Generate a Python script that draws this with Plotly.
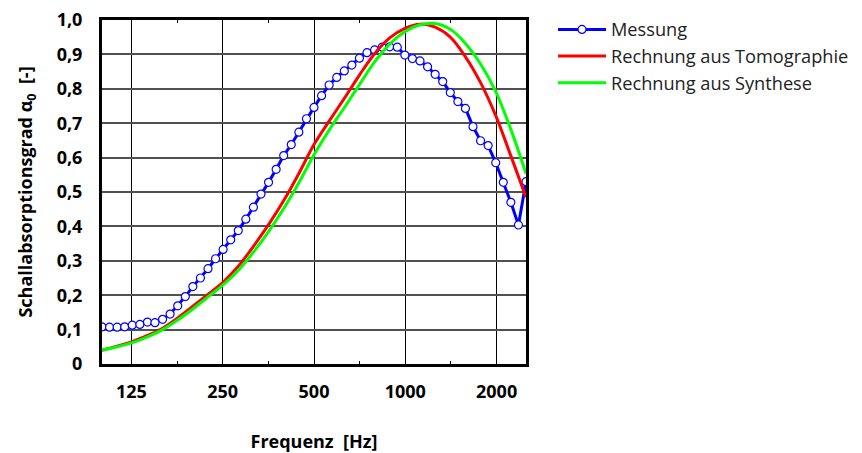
import plotly.graph_objects as go

# 1/12-octave frequencies (Hz)
freq = [100, 105.9, 112.2, 118.8, 125.8, 133.3, 141.2, 149.5, 158.4, 167.7,
        177.7, 188.2, 199.3, 211.1, 223.6, 236.8, 250.8, 265.7, 281.4, 298.0,
        315.7, 334.4, 354.1, 375.1, 397.3, 420.8, 445.7, 472.1, 500.0, 529.6,
        560.9, 594.1, 629.3, 666.5, 705.9, 747.7, 792.0, 838.8, 888.4, 941.0,
        996.7, 1055.6, 1118.1, 1184.2, 1254.3, 1328.5, 1407.1, 1490.3, 1578.5, 1671.9,
        1770.8, 1875.6, 1986.6, 2104.1, 2228.6, 2360.5, 2500.0]

messung = [0.108, 0.107, 0.107, 0.108, 0.113, 0.115, 0.122, 0.120, 0.130, 0.145,
           0.169, 0.196, 0.225, 0.250, 0.277, 0.306, 0.333, 0.361, 0.388, 0.421,
           0.456, 0.494, 0.528, 0.566, 0.606, 0.638, 0.674, 0.713, 0.746, 0.780,
           0.811, 0.833, 0.852, 0.869, 0.889, 0.905, 0.913, 0.921, 0.922, 0.921,
           0.898, 0.888, 0.881, 0.864, 0.842, 0.821, 0.789, 0.763, 0.743, 0.690,
           0.649, 0.635, 0.585, 0.528, 0.470, 0.404, 0.530]

# 1/6-octave frequencies for the calculated curves
freq_calc = [100, 112.2, 125.8, 141.2, 158.4, 177.7, 199.3, 223.6, 250.8, 281.4,
             315.7, 354.1, 397.3, 445.7, 500.0, 560.9, 629.3, 705.9, 792.0, 888.4,
             996.7, 1118.1, 1254.3, 1407.1, 1578.5, 1770.8, 1986.6, 2228.6, 2500.0]

tomographie = [0.040, 0.052, 0.065, 0.083, 0.104, 0.134, 0.168, 0.202, 0.238, 0.284,
               0.342, 0.405, 0.475, 0.554, 0.638, 0.706, 0.772, 0.840, 0.902, 0.948,
               0.976, 0.988, 0.979, 0.950, 0.893, 0.818, 0.722, 0.605, 0.485]

synthese = [0.040, 0.050, 0.062, 0.079, 0.100, 0.128, 0.160, 0.195, 0.230, 0.272,
            0.325, 0.385, 0.452, 0.527, 0.608, 0.680, 0.745, 0.812, 0.878, 0.930,
            0.966, 0.986, 0.990, 0.973, 0.932, 0.872, 0.792, 0.682, 0.554]

x_tickvals = [125, 250, 500, 1000, 2000]
x_ticktext = ["125", "250", "500", "1000", "2000"]
y_tickvals = [0, 0.1, 0.2, 0.3, 0.4, 0.5, 0.6, 0.7, 0.8, 0.9, 1.0]
y_ticktext = ["0", "0,1", "0,2", "0,3", "0,4", "0,5", "0,6", "0,7", "0,8", "0,9", "1,0"]

FONT = "Open Sans"

fig = go.Figure()
fig.add_trace(go.Scatter(
    x=freq, y=messung, name="Messung", mode="lines+markers",
    line=dict(color="#0000FF", width=3),
    marker=dict(symbol="circle", size=8, color="white",
                line=dict(color="#0000FF", width=1.2)),
))
fig.add_trace(go.Scatter(
    x=freq_calc, y=tomographie, name="Rechnung aus Tomographie", mode="lines",
    line=dict(color="#FF0000", width=3, shape="spline", smoothing=1.0),
))
fig.add_trace(go.Scatter(
    x=freq_calc, y=synthese, name="Rechnung aus Synthese", mode="lines",
    line=dict(color="#00FF00", width=3, shape="spline", smoothing=1.0),
))

fig.update_layout(
    template="none",
    width=862, height=453,
    margin=dict(l=102, r=336, t=20, b=89, autoexpand=False),
    paper_bgcolor="white", plot_bgcolor="white",
    font=dict(family=FONT, size=18, color="#000000"),
    showlegend=True,
    legend=dict(
        x=1.0637, y=1.026, xanchor="left", yanchor="top",
        font=dict(family=FONT, size=18.2, color="#222222"),
        bgcolor="rgba(0,0,0,0)", borderwidth=0,
        itemwidth=48, tracegroupgap=0,
    ),
    xaxis=dict(
        type="log", range=[2, 3.39794], automargin=False,
        tickvals=x_tickvals, ticktext=x_ticktext,
        tickfont=dict(family=FONT, size=18, color="#000000", weight="bold"),
        ticks="", ticklabelstandoff=9, ticklabeloverflow="allow",
        showgrid=True, gridcolor="#000000", gridwidth=1,
        showline=True, linecolor="#000000", linewidth=3, mirror="all",
        zeroline=False,
        minor=dict(tickvals=[177, 354, 707, 1414], ticks="inside", ticklen=3,
                   tickcolor="#000000", showgrid=False),
        title=dict(text="Frequenz&nbsp;&nbsp;[Hz]", standoff=39,
                   font=dict(family=FONT, size=18, color="#000000", weight="bold")),
    ),
    yaxis=dict(
        range=[0, 1.0], automargin=False,
        tickvals=y_tickvals, ticktext=y_ticktext,
        tickfont=dict(family=FONT, size=18, color="#000000", weight="bold"),
        ticks="", ticklabelstandoff=13, ticklabeloverflow="allow",
        showgrid=True, gridcolor="#505050", gridwidth=1.5,
        showline=True, linecolor="#000000", linewidth=3, mirror="all",
        zeroline=False,
        title=dict(text="Schallabsorptionsgrad α<sub>0</sub>&nbsp;&nbsp;[-]", standoff=20,
                   font=dict(family=FONT, size=18, color="#000000", weight="bold")),
    ),
)

# remove the browser's default 8px body margin so the figure fills the window exactly
fig.write_html("out.html",
               config={"displayModeBar": False},
               post_script="document.body.style.margin='0';document.body.style.overflow='hidden';")
